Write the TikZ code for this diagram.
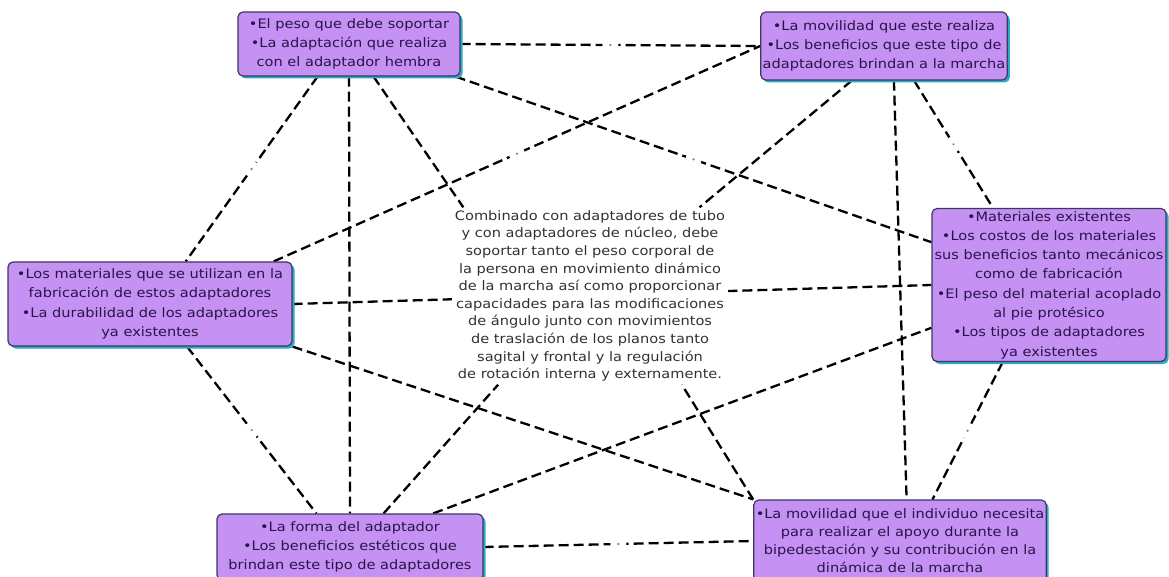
\documentclass[tikz,border=0pt]{standalone}
\usepackage{fontspec}
\setmainfont{DejaVu Sans}[FakeStretch=1.12]
\usetikzlibrary{shadows,backgrounds}
\newcommand{\vin}{\textbullet}

\begin{document}
\begin{tikzpicture}[x=1pt,y=-1pt,
	concepto/.style={draw={rgb,255:red,60;green,55;blue,100}, line width=1.2pt, rounded corners=5pt,
		fill={rgb,255:red,197;green,145;blue,242}, text={rgb,255:red,40;green,20;blue,75},
		align=center, inner sep=2pt, font=\fontsize{13}{19.3}\selectfont,
		drop shadow={shadow xshift=2.5pt, shadow yshift=-2.5pt, opacity=1,
			fill={rgb,255:red,45;green,170;blue,195}}},
	enlace/.style={draw=black, line width=2.3pt, dash pattern=on 10pt off 5pt},
	frase/.style={fill=white, circle, inner sep=0pt, minimum size=16pt,
		path picture={\fill[gray] (path picture bounding box.center) circle (1.2pt);}}]
		\useasboundingbox (0,0) rectangle (1169,577);
		
		\node[concepto, minimum width=222pt, minimum height=64pt] (peso) at (349,44)
			{\vin El peso que debe soportar\\ \vin La adaptación que realiza\\ con el adaptador hembra};
		\node[concepto, minimum width=243pt, minimum height=68pt] (movilidad) at (884,46)
			{\vin La movilidad que este realiza\\ \vin Los beneficios que este tipo de\\ adaptadores brindan a la marcha};
		\node[concepto, minimum width=234pt, minimum height=153pt] (materiales) at (1049,285)
			{\vin Materiales existentes\\ \vin Los costos de los materiales\\ sus beneficios tanto mecánicos\\ como de fabricación\\
			 \vin El peso del material acoplado\\ al pie protésico\\ \vin Los tipos de adaptadores\\ ya existentes};
		\node[concepto, minimum width=284pt, minimum height=84pt] (durabilidad) at (150,304)
			{\vin Los materiales que se utilizan en la\\ fabricación de estos adaptadores\\ \vin La durabilidad de los adaptadores\\ ya existentes};
		\node[concepto, minimum width=266pt, minimum height=66pt] (forma) at (350,547)
			{\vin La forma del adaptador\\ \vin Los beneficios estéticos que\\ brindan este tipo de adaptadores};
		\node[concepto, minimum width=290pt, minimum height=82pt, font=\fontsize{13}{18}\selectfont] (apoyo) at (900,541)
			{\vin La movilidad que el individuo necesita\\ para realizar el apoyo durante la\\ bipedestación y su contribución en la\\ dinámica de la marcha};
		
		\node[fill=white, inner sep=3pt, align=center, text={rgb,255:red,50;green,50;blue,50},
			font=\fontsize{13}{17.6}\selectfont] (centro) at (590,296)
			{Combinado con adaptadores de tubo\\ y con adaptadores de núcleo, debe\\ soportar tanto el peso corporal de\\
			 la persona en movimiento dinámico\\ de la marcha así como proporcionar\\ capacidades para las modificaciones\\
			 de ángulo junto con movimientos\\ de traslación de los planos tanto\\ sagital y frontal y la regulación\\
			 de rotación interna y externamente.};
		
		\begin{scope}[on background layer]
		\fill[white] (0,0) rectangle (1169,577);
		
		\draw[enlace] (peso.east) -- node[frase]{} (movilidad.west);
		\draw[enlace] (peso.343) -- node[frase]{} (materiales.160);
		\draw[enlace] (peso.226) -- node[frase]{} (durabilidad.50);
		\draw[enlace] (peso.south) -- (forma.north);
		\draw[enlace] (peso.307) -- (centro.145);
		
		\draw[enlace] (durabilidad.19) -- node[frase]{} (movilidad.west);
		\draw[enlace] (durabilidad.east) -- (materiales.west);
		\draw[enlace] (durabilidad.311) -- node[frase]{} (forma.135);
		\draw[enlace] (durabilidad.south east) -- (apoyo.north west);
		
		\draw[enlace] (forma.45) -- (centro.224);
		\draw[enlace] (forma.22) -- (materiales.200);
		\draw[enlace] (forma.east) -- node[frase]{} (apoyo.west);
		
		\draw[enlace] (movilidad.227) -- (centro.39);
		\draw[enlace] (movilidad.286) -- (apoyo.81);
		\draw[enlace] (movilidad.311) -- node[frase]{} (materiales.126);
		
		\draw[enlace] (materiales.239) -- node[frase]{} (apoyo.52);
		\draw[enlace] (apoyo.north west) -- (centro.316);
		\end{scope}
\end{tikzpicture}
\end{document}
